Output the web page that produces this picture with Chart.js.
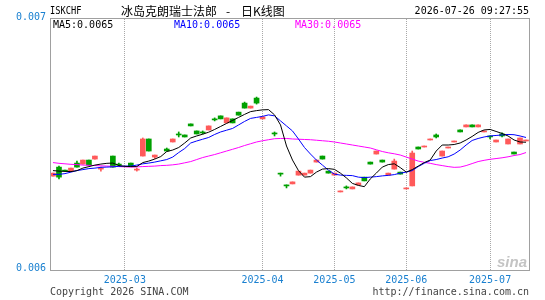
<!DOCTYPE html>
<html><head><meta charset="utf-8">
<script src="https://cdn.jsdelivr.net/npm/chart.js@4/dist/chart.umd.min.js"></script>
<style>html,body{margin:0;padding:0;background:#fff}canvas{display:block}</style>
</head><body>
<canvas id="c" width="545" height="300"></canvas>
<script>
const symbol = 'ISKCHF';
const titleText = '冰岛克朗瑞士法郎 - 日K线图';
const stamp = '2026-07-26 09:27:55';
const yTicks = [0.006, 0.007];

const dates = [
'2025-02-13','2025-02-14','2025-02-17','2025-02-18','2025-02-19','2025-02-20','2025-02-21','2025-02-24','2025-02-25','2025-02-26','2025-02-27','2025-02-28',
'2025-03-02','2025-03-03','2025-03-04','2025-03-05','2025-03-06','2025-03-07','2025-03-09','2025-03-10','2025-03-11','2025-03-12','2025-03-13','2025-03-14','2025-03-17','2025-03-18','2025-03-19','2025-03-20','2025-03-21','2025-03-24','2025-03-25','2025-03-26','2025-03-27','2025-03-28','2025-03-31',
'2025-04-01','2025-04-02','2025-04-03','2025-04-04','2025-04-08','2025-04-10','2025-04-14','2025-04-16','2025-04-18','2025-04-22','2025-04-25','2025-04-29',
'2025-05-01','2025-05-05','2025-05-07','2025-05-09','2025-05-12','2025-05-14','2025-05-16','2025-05-19','2025-05-21','2025-05-23','2025-05-27','2025-05-29',
'2025-06-02','2025-06-04','2025-06-06','2025-06-09','2025-06-11','2025-06-13','2025-06-16','2025-06-17','2025-06-18','2025-06-20','2025-06-23','2025-06-25','2025-06-27','2025-06-30',
'2025-07-01','2025-07-03','2025-07-07','2025-07-09','2025-07-14','2025-07-17','2025-07-22'];

const opens = [0.006374,0.006410,0.006398,0.006394,0.006426,0.006422,0.006438,0.006442,0.006402,null,
0.006454,0.006422,null,0.006426,0.006398,0.006454,0.006522,0.006450,null,0.006482,
0.006510,0.006542,0.006538,0.006582,0.006554,0.006550,0.006558,0.006602,0.006614,0.006586,
0.006602,0.006629,0.006665,0.006645,0.006685,0.006602,null,0.006546,0.006386,0.006339,
0.006343,0.006378,0.006378,0.006386,0.006430,0.006454,0.006394,0.006378,0.006311,0.006331,
0.006323,0.006339,0.006370,0.006430,0.006462,0.006438,0.006378,0.006402,0.006390,0.006323,
0.006335,0.006490,0.006490,0.006518,0.006538,0.006454,0.006486,0.006510,0.006558,0.006570,
0.006578,0.006570,0.006550,0.006534,0.006510,0.006542,0.006502,0.006470,0.006502,0.006514];

const closes = [0.006386,0.006370,0.006394,0.006406,0.006410,0.006438,0.006418,0.006454,0.006406,null,
0.006410,0.006418,null,0.006414,0.006402,0.006522,0.006474,0.006458,null,0.006474,
0.006522,0.006538,0.006530,0.006574,0.006542,0.006546,0.006574,0.006598,0.006602,0.006606,
0.006586,0.006617,0.006645,0.006653,0.006665,0.006610,null,0.006542,0.006382,0.006335,
0.006351,0.006394,0.006386,0.006398,0.006438,0.006442,0.006386,0.006386,0.006315,0.006327,
0.006331,0.006347,0.006355,0.006422,0.006474,0.006430,0.006386,0.006434,0.006382,0.006327,
0.006466,0.006482,0.006494,0.006522,0.006530,0.006474,0.006490,0.006514,0.006550,0.006578,
0.006570,0.006578,0.006554,0.006530,0.006518,0.006534,0.006522,0.006462,0.006526,0.006518];

const highs = [0.006386,0.006414,0.006398,0.006406,0.006434,0.006438,0.006438,0.006454,0.006410,null,
0.006454,0.006426,null,0.006426,0.006406,0.006526,0.006522,0.006458,null,0.006486,
0.006522,0.006550,0.006538,0.006582,0.006554,0.006554,0.006574,0.006606,0.006614,0.006606,
0.006602,0.006629,0.006669,0.006653,0.006689,0.006610,null,0.006550,0.006386,0.006339,
0.006351,0.006394,0.006386,0.006398,0.006438,0.006454,0.006394,0.006386,0.006315,0.006335,
0.006331,0.006347,0.006370,0.006430,0.006474,0.006438,0.006386,0.006442,0.006390,0.006327,
0.006474,0.006490,0.006494,0.006522,0.006542,0.006474,0.006490,0.006514,0.006558,0.006578,
0.006578,0.006578,0.006554,0.006534,0.006518,0.006546,0.006522,0.006470,0.006526,0.006518];

const lows = [0.006374,0.006363,0.006394,0.006394,0.006410,0.006422,0.006418,0.006442,0.006394,null,
0.006410,0.006414,null,0.006414,0.006394,0.006454,0.006474,0.006444,null,0.006474,
0.006510,0.006530,0.006530,0.006574,0.006542,0.006542,0.006558,0.006594,0.006602,0.006586,
0.006586,0.006617,0.006645,0.006645,0.006661,0.006602,null,0.006534,0.006374,0.006327,
0.006343,0.006378,0.006378,0.006386,0.006430,0.006442,0.006386,0.006378,0.006311,0.006323,
0.006323,0.006339,0.006355,0.006422,0.006462,0.006430,0.006378,0.006402,0.006382,0.006323,
0.006335,0.006482,0.006490,0.006518,0.006526,0.006454,0.006486,0.006510,0.006550,0.006570,
0.006570,0.006570,0.006550,0.006522,0.006510,0.006530,0.006502,0.006462,0.006502,0.006514];

const ma5 = [0.006396,0.006394,0.006393,0.006392,0.006396,0.006406,0.006412,0.006418,0.006422,0.006425,
0.006426,0.006416,0.006413,0.006412,0.006412,0.006428,0.006434,0.006442,0.006452,0.006472,
0.006478,0.006488,0.006506,0.006526,0.006534,0.006541,0.006549,0.006560,0.006572,0.006584,
0.006596,0.006608,0.006620,0.006631,0.006635,0.006638,0.006639,0.006618,0.006578,0.006494,
0.006438,0.006396,0.006370,0.006372,0.006390,0.006402,0.006404,0.006401,0.006386,0.006367,
0.006345,0.006337,0.006332,0.006363,0.006386,0.006410,0.006420,0.006423,0.006408,0.006390,
0.006400,0.006414,0.006428,0.006438,0.006474,0.006498,0.006498,0.006500,0.006506,0.006518,
0.006532,0.006548,0.006558,0.006560,0.006552,0.006544,0.006534,0.006518,0.006510,0.006509];

const ma10 = [0.006381,0.006381,0.006384,0.006390,0.006396,0.006400,0.006404,0.006406,0.006409,0.006410,
0.006411,0.006413,0.006414,0.006414,0.006418,0.006423,0.006426,0.006430,0.006435,0.006440,
0.006450,0.006468,0.006484,0.006506,0.006514,0.006521,0.006528,0.006540,0.006550,0.006557,
0.006564,0.006578,0.006592,0.006604,0.006608,0.006612,0.006618,0.006614,0.006594,0.006574,
0.006554,0.006522,0.006488,0.006462,0.006438,0.006418,0.006398,0.006382,0.006378,0.006377,
0.006376,0.006370,0.006368,0.006370,0.006372,0.006375,0.006377,0.006380,0.006386,0.006390,
0.006396,0.006412,0.006425,0.006436,0.006440,0.006446,0.006451,0.006462,0.006478,0.006498,
0.006516,0.006524,0.006530,0.006534,0.006536,0.006538,0.006540,0.006539,0.006534,0.006528];

const ma30 = [0.006428,0.006425,0.006423,0.006421,0.006420,0.006418,0.006417,0.006416,0.006415,0.006414,
0.006413,0.006412,0.006411,0.006410,0.006411,0.006412,0.006413,0.006414,0.006416,0.006417,
0.006419,0.006422,0.006427,0.006432,0.006440,0.006448,0.006454,0.006460,0.006467,0.006474,
0.006481,0.006488,0.006496,0.006503,0.006510,0.006515,0.006519,0.006523,0.006524,0.006524,
0.006522,0.006521,0.006520,0.006519,0.006517,0.006515,0.006513,0.006510,0.006506,0.006502,
0.006498,0.006494,0.006490,0.006486,0.006479,0.006472,0.006467,0.006463,0.006458,0.006450,
0.006442,0.006434,0.006429,0.006425,0.006420,0.006416,0.006412,0.006409,0.006410,0.006416,
0.006424,0.006432,0.006437,0.006441,0.006444,0.006447,0.006451,0.006456,0.006460,0.006468];

const RED = '#ff5a5a', GREEN = '#00a000', BLUE = '#1a80d0';
const MONO = '"DejaVu Sans Mono", monospace';
const candleColors = opens.map((o, i) => o == null ? 'rgba(0,0,0,0)' : (closes[i] >= o ? RED : GREEN));
const monthStart = dates.map((d, i) => i > 0 && d.slice(0, 7) !== dates[i - 1].slice(0, 7));
const last = a => a[a.length - 1];

const overlay = {
  id: 'overlay',
  afterDraw(chart) {
    const c = chart.ctx, a = chart.chartArea;
    c.save();
    c.strokeStyle = '#a0a0a0'; c.lineWidth = 1;
    c.strokeRect(a.left + 0.5, a.top - 0.5, a.right - a.left, a.bottom - a.top + 1);
    c.textBaseline = 'middle';
    c.fillStyle = '#000';
    c.font = '10px ' + MONO; c.textAlign = 'left';
    c.save(); c.translate(50, 11); c.scale(0.87, 1.05); c.fillText(symbol, 0, 0); c.restore();
    // title: name, separator, chart kind
    const parts = titleText.split(' - ');
    c.font = '12px "Noto Sans CJK SC", sans-serif';
    c.fillText(parts[0], 121, 11);
    c.textAlign = 'center';
    c.fillText('-', 228, 11);
    c.textAlign = 'left';
    c.fillText(parts[1], 241, 11);
    c.font = '10px ' + MONO; c.textAlign = 'right';
    c.fillText(stamp, 529, 11);
    c.textAlign = 'left';
    c.fillStyle = '#000'; c.fillText('MA5:' + last(ma5).toFixed(4), 53, 25);
    c.fillStyle = '#0000ff'; c.fillText('MA10:' + last(ma10).toFixed(4), 174, 25);
    c.fillStyle = '#ff00ff'; c.fillText('MA30:' + last(ma30).toFixed(4), 295, 25);
    c.fillStyle = '#444';
    c.fillText('Copyright 2026 SINA.COM', 50, 292);
    c.textAlign = 'right';
    c.fillText('http://finance.sina.com.cn', 529, 292);
    c.fillStyle = '#c4c4c4';
    c.font = 'italic bold 15px "Liberation Sans", sans-serif';
    c.textBaseline = 'alphabetic';
    c.fillText('sina', 527, 267);
    c.restore();
  }
};

new Chart(document.getElementById('c'), {
  type: 'bar',
  data: {
    labels: dates,
    datasets: [
      { type: 'line', label: 'MA5', data: ma5, borderColor: '#000', borderWidth: 1, pointRadius: 0, tension: 0, order: 0 },
      { type: 'line', label: 'MA10', data: ma10, borderColor: '#0000ff', borderWidth: 1, pointRadius: 0, tension: 0, order: 0 },
      { type: 'line', label: 'MA30', data: ma30, borderColor: '#ff00ff', borderWidth: 1, pointRadius: 0, tension: 0, order: 0 },
      { label: 'wick', data: dates.map((d, i) => highs[i] == null ? null : [lows[i], highs[i]]),
        backgroundColor: candleColors, barThickness: 1, grouped: false, borderWidth: 0, order: 2 },
      { label: 'body', data: dates.map((d, i) => opens[i] == null ? null : [opens[i], closes[i]]),
        backgroundColor: candleColors, barThickness: 5, grouped: false, borderWidth: 0, order: 1 }
    ]
  },
  options: {
    responsive: false, animation: false, devicePixelRatio: 1,
    layout: { padding: { left: 0, right: 16, top: 19, bottom: 0 } },
    plugins: { legend: { display: false }, tooltip: { enabled: false }, title: { display: false } },
    scales: {
      x: {
        type: 'category', offset: true,
        grid: { offset: false, drawTicks: false, lineWidth: 1,
          color: c => monthStart[c.index] ? '#a8a8a8' : 'rgba(0,0,0,0)' },
        border: { display: false, dash: [1, 1] },
        ticks: { autoSkip: false, maxRotation: 0, minRotation: 0, padding: 4, color: BLUE,
          font: { family: MONO, size: 10 },
          callback: (v, i) => monthStart[i] ? dates[i].slice(0, 7) : '' },
        afterFit: s => { s.height = 30; }
      },
      y: {
        min: yTicks[0], max: yTicks[1],
        afterBuildTicks: s => { s.ticks = yTicks.map(v => ({ value: v })); },
        grid: { display: false, drawTicks: false },
        border: { display: false },
        ticks: { color: BLUE, font: { family: MONO, size: 10 }, padding: 4, labelOffset: -2,
          callback: v => Number(v).toFixed(3) },
        afterFit: s => { s.width = 50; }
      }
    }
  },
  plugins: [overlay]
});
</script>
</body></html>
